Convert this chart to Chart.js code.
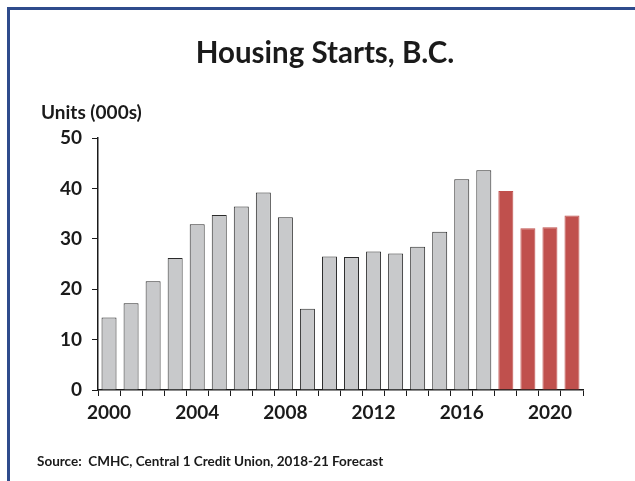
<!DOCTYPE html>
<html>
<head>
	<title>Housing Starts, B.C.</title>
	<script src="https://cdn.jsdelivr.net/npm/chart.js"></script>
	<style>
		body { margin: 0; padding: 0; background: #fff; overflow: hidden; }
		.wrap { position: relative; width: 635px; height: 481px; }
		.frame {
			position: absolute; left: 7px; top: 7px; width: 640px; height: 490px;
			border-left: 3px solid #2f4b8c; border-top: 3px solid #2f4b8c;
			pointer-events: none;
		}
		#housing { position: absolute; left: 0; top: 0; }
	</style>
</head>
<body>
	<div class="wrap">
		<canvas id="housing" width="635" height="481"></canvas>
		<div class="frame"></div>
	</div>
	<script>
		// housing starts, thousands of units
		var years = ['2000','2001','2002','2003','2004','2005','2006','2007','2008','2009','2010',
			'2011','2012','2013','2014','2015','2016','2017','2018','2019','2020','2021'];
		var starts = [14.4, 17.2, 21.6, 26.2, 32.9, 34.7, 36.4, 39.2, 34.3, 16.1, 26.5,
			26.4, 27.5, 27.1, 28.4, 31.4, 41.8, 43.6, 39.5, 32.1, 32.3, 34.6];
		var firstForecast = '2018';
		var yTicks = [0, 10, 20, 30, 40, 50];

		var font = 'Lato';
		var fc = years.indexOf(firstForecast);
		var fills = years.map(function (y, i) { return i < fc ? '#c8c9cb' : '#c0504d'; });
		var edges = years.map(function (y, i) { return i < fc ? '#2b2b2b' : '#c0504d'; });

		// title, unit label and source line
		var notes = {
			id: 'notes',
			afterDraw: function (chart) {
				var c = chart.ctx;
				c.save();
				c.fillStyle = '#1a1a1a';
				c.textBaseline = 'middle';
				c.textAlign = 'center';
				c.font = 'bold 29.5px ' + font;
				c.fillText('Housing Starts, B.C.', 325, 53);
				c.textAlign = 'left';
				c.font = 'bold 19px ' + font;
				c.fillText('Units (000s)', 41, 113);
				c.font = 'bold 13.5px ' + font;
				c.fillText('Source:  CMHC, Central 1 Credit Union, 2018-21 Forecast', 37, 462);
				c.restore();
			}
		};

		new Chart(document.getElementById('housing'), {
			type: 'bar',
			data: {
				labels: years,
				datasets: [{
					data: starts,
					backgroundColor: fills,
					borderColor: edges,
					borderWidth: 1,
					barPercentage: 0.68,
					categoryPercentage: 1
				}]
			},
			options: {
				responsive: false,
				animation: false,
				layout: { padding: { left: 16, right: 52, top: 138, bottom: 58 } },
				plugins: {
					legend: { display: false },
					tooltip: { enabled: false },
					title: { display: false }
				},
				scales: {
					x: {
						grid: { display: true, drawOnChartArea: false, offset: true, tickLength: 6, color: '#1a1a1a' },
						border: { color: '#1a1a1a', width: 1.5 },
						afterFit: function (s) { s.height = 33; },
						ticks: {
							autoSkip: false,
							maxRotation: 0,
							padding: 5,
							color: '#1a1a1a',
							font: { family: font, size: 19, weight: 'bold' },
							callback: function (v, i) { return (+years[i]) % 4 === 0 ? years[i] : ''; }
						}
					},
					y: {
						min: 0,
						max: 50,
						afterBuildTicks: function (s) { s.ticks = yTicks.map(function (v) { return { value: v }; }); },
						afterFit: function (s) { s.width = 82; },
						grid: { display: true, drawOnChartArea: false, tickLength: 6, color: '#1a1a1a' },
						border: { color: '#1a1a1a', width: 1.5 },
						ticks: {
							padding: 10,
							color: '#1a1a1a',
							font: { family: font, size: 19, weight: 'bold' }
						}
					}
				}
			},
			plugins: [notes]
		});
	</script>
</body>
</html>
